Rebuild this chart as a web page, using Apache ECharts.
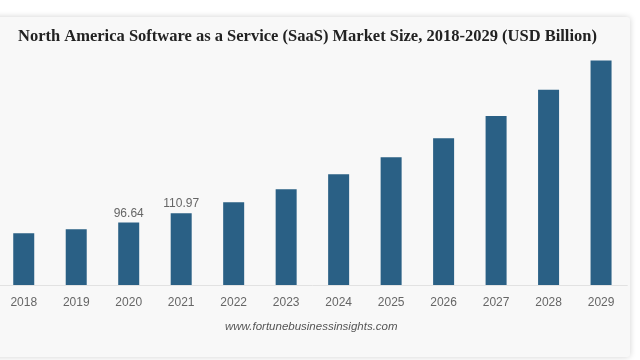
<!DOCTYPE html>
<html>
<head>
<meta charset="utf-8">
<script src="https://cdn.jsdelivr.net/npm/echarts@6/dist/echarts.min.js"></script>
<style>
html,body{margin:0;padding:0;background:#ffffff;overflow:hidden;}
#wrap{position:relative;width:640px;height:360px;overflow:hidden;}
#chart{position:absolute;left:-10px;top:0;width:650px;height:360px;}
</style>
</head>
<body>
<div id="wrap"><div id="chart"></div></div>
<script>
var years = ['2018','2019','2020','2021','2022','2023','2024','2025','2026','2027','2028','2029'];
var marketSize = [79.9, 86.1, 96.64, 110.97, 127.8, 147.9, 171.1, 197.4, 226.7, 261.2, 301.4, 346.7];
var labeledYears = ['2020','2021'];
var titleText = 'North America Software as a Service (SaaS) Market Size, 2018-2029 (USD Billion)';
var sourceText = 'www.fortunebusinessinsights.com';

var chart = echarts.init(document.getElementById('chart'), null, {renderer:'canvas'});
var seriesData = years.map(function(y, i){
  var item = {value: marketSize[i]};
  if (labeledYears.indexOf(y) >= 0) {
    item.label = {show: true, position: 'top', distance: 3, color: '#666', fontSize: 12, fontFamily: 'Liberation Sans, Arial, sans-serif', formatter: function(p){ return p.value.toFixed(2); }};
  }
  return item;
});
var OX = 10; // horizontal offset of the widened canvas
chart.setOption({
  backgroundColor: '#ffffff',
  animation: false,
  graphic: [{
    type: 'rect', z: -10, silent: true,
    shape: {x: -10 + OX, y: 17, width: 640, height: 340, r: 3},
    style: {fill: '#f8f8f8', shadowBlur: 6, shadowColor: 'rgba(0,0,0,0.18)', shadowOffsetX: 0, shadowOffsetY: 0}
  }],
  title: [{
    text: titleText, left: 18 + OX, top: 28, padding: 0,
    textStyle: {fontFamily: 'Liberation Serif, Times New Roman, serif', fontWeight: 'bold', fontSize: 16.5, color: '#222'}
  }, {
    text: sourceText, left: 225 + OX, top: 321, padding: 0,
    textStyle: {fontFamily: 'Liberation Sans, Arial, sans-serif', fontStyle: 'italic', fontWeight: 'normal', fontSize: 11.5, color: '#555'}
  }],
  grid: {left: -2.5 + OX, width: 629.8, top: 58.4, bottom: 75, containLabel: false},
  xAxis: {
    type: 'category', data: years,
    axisLine: {show: true, lineStyle: {color: '#e2e2e2', width: 1}},
    axisTick: {show: false},
    axisLabel: {color: '#666', fontSize: 12, margin: 12, fontFamily: 'Liberation Sans, Arial, sans-serif'}
  },
  yAxis: {
    type: 'value', min: 0, max: 350, show: false,
    splitLine: {show: false}
  },
  series: [{
    type: 'bar', data: seriesData, barWidth: 21,
    itemStyle: {color: '#2a6085'},
    label: {show: false}
  }]
});
</script>
</body>
</html>
